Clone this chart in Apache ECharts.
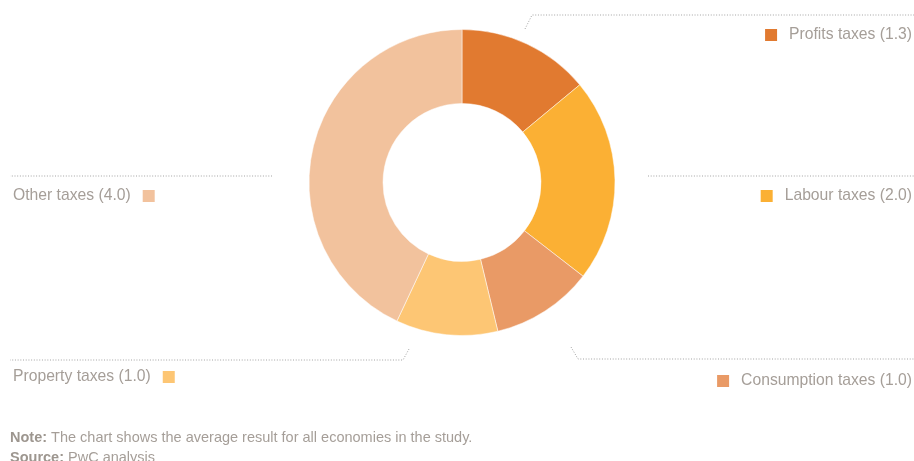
<!DOCTYPE html>
<html>
<head>
<meta charset="utf-8">
<script src="https://cdn.jsdelivr.net/npm/echarts@6/dist/echarts.min.js"></script>
<style>
html,body{margin:0;padding:0;background:#fff;}
#chart{width:914px;height:461px;}
</style>
</head>
<body>
<div id="chart"></div>
<script>
// ---- data ----
const categories = ['Profits taxes', 'Labour taxes', 'Consumption taxes', 'Property taxes', 'Other taxes'];
const values = [1.3, 2.0, 1.0, 1.0, 4.0];
const noteText = 'The chart shows the average result for all economies in the study.';
const sourceText = 'PwC analysis';

// ---- styles / layout ----
const colors = ['#E17A30', '#FBB034', '#E99A66', '#FDC674', '#F2C29D'];
const textColor = '#A59E98';
const lineColor = '#A3A3A3';
// per-label placement (side, text centre y, leader line points)
const labelPlacement = [
  { side: 'right', y: 35,  line: [[525, 29], [532, 15], [914, 15]] },
  { side: 'right', y: 196, line: [[648, 176], [648, 176], [914, 176]] },
  { side: 'right', y: 381, line: [[571, 347], [578, 359], [914, 359]] },
  { side: 'left',  y: 377, line: [[409, 349], [403, 360], [10, 360]] },
  { side: 'left',  y: 196, line: [[272, 176], [272, 176], [10, 176]] }
];

const FONT = 'Liberation Sans, Arial, sans-serif';
const rich = {
  t: { fontFamily: FONT, fontSize: 15.7, color: textColor, lineHeight: 18, verticalAlign: 'middle' },
  sp: { width: 12, height: 12 }
};
colors.forEach(function (c, i) {
  rich['sq' + i] = { width: 12, height: 12, backgroundColor: c, verticalAlign: 'middle' };
});

const chart = echarts.init(document.getElementById('chart'), null, { renderer: 'canvas' });

const option = {
  animation: false,
  backgroundColor: '#fff',
  color: colors,
  title: {
    left: 10,
    top: 428,
    padding: 0,
    text: '{b|Note:}{r| ' + noteText + '}\n{b|Source:}{r| ' + sourceText + '}',
    textStyle: {
      fontWeight: 'normal',
      rich: {
        b: { fontFamily: FONT, fontSize: 14.5, fontWeight: 'bold', color: '#9D968F', lineHeight: 20 },
        r: { fontFamily: FONT, fontSize: 14.5, fontWeight: 'normal', color: textColor, lineHeight: 20 }
      }
    }
  },
  series: [{
    type: 'pie',
    center: [462, 182.5],
    radius: [79, 153],
    startAngle: 90,
    clockwise: true,
    avoidLabelOverlap: false,
    itemStyle: { borderColor: '#fff', borderWidth: 0.5 },
    emphasis: { disabled: true },
    data: categories.map(function (c, i) { return { name: c, value: values[i] }; }),
    label: {
      show: true,
      position: 'outside',
      rich: rich,
      formatter: function (p) {
        const txt = '{t|' + p.name + ' (' + p.value.toFixed(1) + ')}';
        const sq = '{sq' + p.dataIndex + '|}';
        return labelPlacement[p.dataIndex].side === 'right'
          ? sq + '{sp|}' + txt
          : txt + '{sp|}' + sq;
      }
    },
    labelLine: {
      show: true,
      length: 10,
      length2: 10,
      lineStyle: { color: lineColor, width: 1, type: [1, 1.7] }
    },
    labelLayout: function (params) {
      const pl = labelPlacement[params.dataIndex];
      const right = pl.side === 'right';
      return {
        x: right ? 912 : 13,
        y: pl.y,
        align: right ? 'right' : 'left',
        verticalAlign: 'middle',
        labelLinePoints: pl.line
      };
    }
  }]
};
chart.setOption(option);
</script>
</body>
</html>
